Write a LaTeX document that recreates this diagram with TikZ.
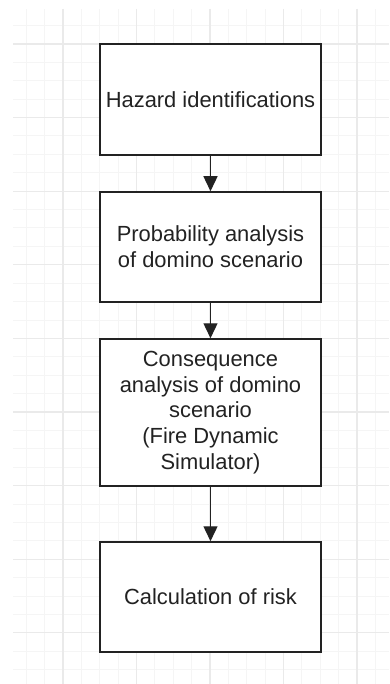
\documentclass[tikz,border=0pt]{standalone}
\usepackage{fontspec}
\setmainfont{Liberation Sans}
\usetikzlibrary{arrows.meta}
\definecolor{gridmajor}{HTML}{EAEAEA}
\definecolor{gridminor}{HTML}{F5F5F5}
\definecolor{boxline}{HTML}{222222}
\tikzset{
 stepbox/.style={draw=boxline, line width=1.5pt, fill=white, minimum width=221pt,
   align=center, inner sep=0pt, text=boxline, font=\fontsize{21.9}{25.7}\selectfont},
 flow/.style={-{Triangle[length=15pt,width=14pt]}, line width=1.4pt, draw=boxline},
 minorline/.style={draw=gridminor, line width=1pt},
 majorline/.style={draw=gridmajor, line width=1.2pt}
}
\begin{document}
\begin{tikzpicture}[x=1pt,y=-1pt]
 \useasboundingbox (0,0) rectangle (389,684);
 % background grid
 \foreach \i in {-2,...,17} \draw[minorline] ({63+18.375*\i},9) -- ({63+18.375*\i},684);
 \foreach \j in {-1,...,34} \draw[minorline] (13,{44+18.4*\j}) -- (389,{44+18.4*\j});
 \foreach \i in {0,...,4} \draw[majorline] ({63+73.5*\i},9) -- ({63+73.5*\i},684);
 \foreach \j in {0,...,8} \draw[majorline] (13,{44+73.6*\j}) -- (389,{44+73.6*\j});
 % steps
 \node[stepbox, minimum height=111pt] (B1) at (210.5,99.5) {Hazard identifications};
 \node[stepbox, minimum height=110pt] (B2) at (210.5,247) {Probability analysis\\of domino scenario};
 \node[stepbox, minimum height=147pt] (B3) at (210.5,412.5) {Consequence\\analysis of domino\\scenario\\(Fire Dynamic\\Simulator)};
 \node[stepbox, minimum height=110pt] (B4) at (210.5,597) {Calculation of risk};
 \draw[flow] (B1) to (B2);
 \draw[flow] (B2) to (B3);
 \draw[flow] (B3) to (B4);
\end{tikzpicture}
\end{document}
